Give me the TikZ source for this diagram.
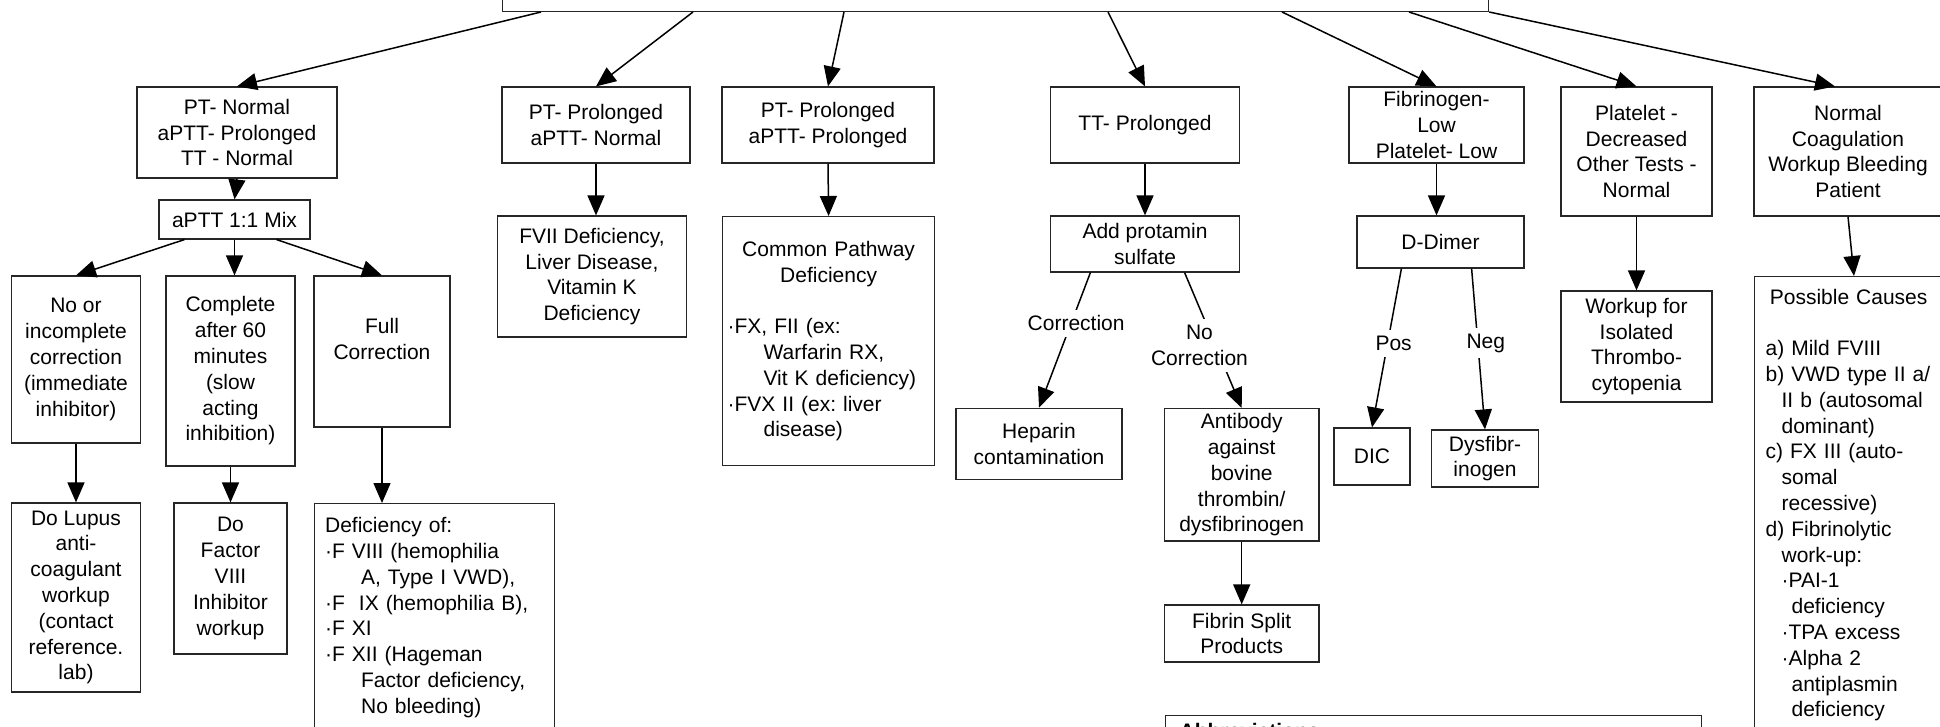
\documentclass[tikz,border=0pt]{standalone}
\usepackage{fontspec}
\setmainfont{Liberation Sans}
\usetikzlibrary{arrows.meta,positioning}
\tikzstyle{box1}=[rectangle, draw=black!85, line width=1.2pt, fill=white, align=center, inner sep=2pt, font=\fontsize{21}{25.8}\selectfont\frenchspacing]
\tikzstyle{box2}=[box1, align=left, anchor=north west]
\tikzstyle{arrow1}=[line width=1.5pt, -{Triangle[length=20pt,width=17pt]}]
\tikzstyle{label1}=[fill=white, inner xsep=2pt, inner ysep=6pt, align=center, font=\fontsize{21}{25.8}\selectfont]
\begin{document}
\begin{tikzpicture}[x=1pt,y=-1pt]
\clip (0,0) rectangle (1940,727);
%Top
\node[box1, minimum width=986pt, minimum height=80pt, anchor=south west] (root) at (502,12) {};

%Row One
\node[box1, minimum width=200pt, minimum height=91pt] (ptn) at (237,132.5) {PT- Normal\\aPTT- Prolonged\\TT - Normal};
\node[box1, minimum width=188pt, minimum height=76pt] (ptp) at (596,125) {PT- Prolonged\\aPTT- Normal};
\node[box1, minimum width=212pt, minimum height=76pt] (ptap) at (828,125) {PT- Prolonged\\aPTT- Prolonged};
\node[box1, minimum width=189pt, minimum height=76pt] (ttp) at (1145,125) {TT- Prolonged};
\node[box1, minimum width=175pt, minimum height=76pt] (fib) at (1436.5,125) {Fibrinogen-\\Low\\Platelet- Low};
\node[box1, minimum width=151pt, minimum height=129pt] (plt) at (1636.5,151.5) {Platelet -\\Decreased\\Other Tests -\\Normal};
\node[box1, minimum width=188pt, minimum height=129pt] (nrm) at (1848,151.5) {Normal\\Coagulation\\Workup Bleeding\\Patient};

%Row Two
\node[box1, minimum width=151pt, minimum height=39pt] (mix) at (234.5,219.5) {aPTT 1:1 Mix};
\node[box1, minimum width=189pt, minimum height=121pt] (fvii) at (592,276.5) {FVII Deficiency,\\Liver Disease,\\Vitamin K\\Deficiency};
\node[box2, text width=202pt, inner xsep=5pt, minimum height=249pt] (cpd) at (722,216) {\makebox[\linewidth]{Common Pathway}\\\makebox[\linewidth]{Deficiency}\\[25.8pt]·FX, FII (ex:\\\hspace*{36pt}Warfarin RX,\\\hspace*{36pt}Vit K deficiency)\\·FVX II (ex: liver\\\hspace*{36pt}disease)};
\node[box1, minimum width=189pt, minimum height=56pt] (prot) at (1145,244) {Add protamin\\sulfate};
\node[box1, minimum width=167pt, minimum height=52pt] (ddim) at (1440.5,242) {D-Dimer};
\node[box1, minimum width=151pt, minimum height=111pt] (iso) at (1636.5,346.5) {Workup for\\Isolated\\Thrombo-\\cytopenia};
\node[box2, text width=166pt, inner xsep=11pt, minimum height=457pt] (cause) at (1754,276) {\makebox[\linewidth]{Possible Causes}\\[25.8pt]a) Mild FVIII\\b) VWD type II a/\\\hspace*{16pt}II b (autosomal\\\hspace*{16pt}dominant)\\c) FX III (auto-\\\hspace*{16pt}somal\\\hspace*{16pt}recessive)\\d) Fibrinolytic\\\hspace*{16pt}work-up:\\\hspace*{16pt}·PAI-1\\\hspace*{26pt}deficiency\\\hspace*{16pt}·TPA excess\\\hspace*{16pt}·Alpha 2\\\hspace*{26pt}antiplasmin\\\hspace*{26pt}deficiency};

%Row Three
\node[box1, minimum width=128.5pt, minimum height=167pt] (noc) at (76,359.5) {No or\\incomplete\\correction\\(immediate\\inhibitor)};
\node[box1, minimum width=129pt, minimum height=190pt] (c60) at (230.5,371) {Complete\\after 60\\minutes\\(slow\\acting\\inhibition)};
\node[box1, minimum width=136pt, minimum height=151pt] (full) at (382,351.5) {Full\\Correction\\~};
\node[box1, minimum width=166pt, minimum height=71.5pt] (hep) at (1039,444) {Heparin\\contamination};
\node[box1, minimum width=154.5pt, minimum height=132.5pt] (abt) at (1241.7,474.8) {Antibody\\against\\bovine\\thrombin/\\dysfibrinogen};
\node[box1, minimum width=76pt, minimum height=57pt] (dic) at (1372,456.5) {DIC};
\node[box1, minimum width=106.5pt, minimum height=57pt] (dysf) at (1485,458.5) {Dysfibr-\\inogen};

%Row Four
\node[box1, minimum width=128.5pt, minimum height=189pt] (lupus) at (76,597.5) {Do Lupus\\anti-\\coagulant\\workup\\(contact\\reference.\\lab)};
\node[box1, minimum width=113pt, minimum height=151pt] (inh) at (230.5,578.5) {Do\\Factor\\VIII\\Inhibitor\\workup};
\node[box2, text width=219pt, inner xsep=10.5pt, minimum height=228pt] (defc) at (314,503) {Deficiency of:\\·F VIII (hemophilia\\\hspace*{36pt}A, Type I VWD),\\·F\ \ IX (hemophilia B),\\·F XI\\·F XII (Hageman\\\hspace*{36pt}Factor deficiency,\\\hspace*{36pt}No bleeding)};
\node[box1, minimum width=154.5pt, minimum height=57pt] (fsp) at (1241.7,633.5) {Fibrin Split\\Products};
\node[box2, text width=507pt, inner xsep=14.5pt, inner ysep=8pt] (abbr) at (1164.5,715) {\textbf{Abbreviations}};

%Arrows
\draw[arrow1] ([xshift=39pt]root.south west) -- (ptn.north);
\draw[arrow1] ([xshift=191pt]root.south west) -- (ptp.north);
\draw[arrow1] ([xshift=342pt]root.south west) -- (ptap.north);
\draw[arrow1] ([xshift=606pt]root.south west) -- (ttp.north);
\draw[arrow1] ([xshift=780pt]root.south west) -- (fib.north);
\draw[arrow1] ([xshift=907pt]root.south west) -- (plt.north);
\draw[arrow1] (root.south east) -- ([xshift=-13pt]nrm.north);

\draw[arrow1] (ptn.south) -- (mix.north);
\draw[arrow1] ([xshift=26pt]mix.south west) -- (noc.north);
\draw[arrow1] (mix.south) -- (mix.south |- c60.north);
\draw[arrow1] ([xshift=-34pt]mix.south east) -- (full.north);
\draw[arrow1] (noc.south) -- (lupus.north);
\draw[arrow1] (c60.south) -- (inh.north);
\draw[arrow1] (full.south) -- (full.south |- defc.north);

\draw[arrow1] (ptp.south) -- (ptp.south |- fvii.north);
\draw[arrow1] (ptap.south) -- (cpd.north);

\draw[arrow1] (ttp.south) -- (prot.north);
\draw[arrow1] ([xshift=40.5pt]prot.south west) -- node[label1, pos=0.375, xshift=5pt]{Correction} (hep.north);
\draw[arrow1] ([xshift=-55.5pt]prot.south east) -- node[label1, pos=0.54, xshift=-16pt]{No\\Correction} (abt.north);
\draw[arrow1] (abt.south) -- (fsp.north);

\draw[arrow1] (fib.south) -- (fib.south |- ddim.north);
\draw[arrow1] ([xshift=45pt]ddim.south west) -- node[label1, pos=0.47, xshift=6pt]{Pos} (dic.north);
\draw[arrow1] ([xshift=-53pt]ddim.south east) -- node[label1, pos=0.463, xshift=8pt]{Neg} (dysf.north);

\draw[arrow1] (plt.south) -- (iso.north);
\draw[arrow1] (nrm.south) -- ([xshift=6pt]nrm.south |- cause.north);
\end{tikzpicture}
\end{document}
